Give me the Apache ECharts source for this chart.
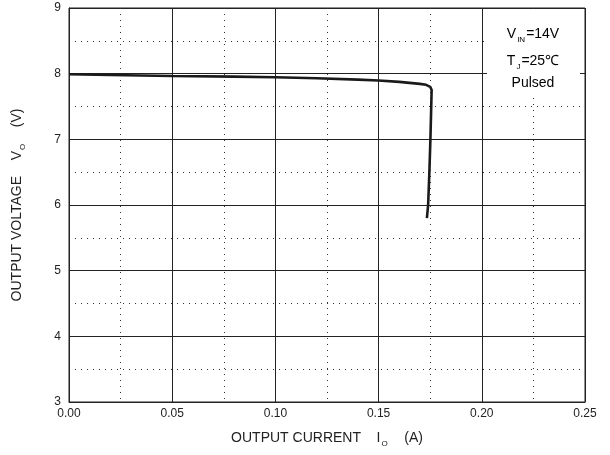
<!DOCTYPE html>
<html>
<head>
<meta charset="utf-8">
<script src="https://cdn.jsdelivr.net/npm/echarts@6/dist/echarts.min.js"></script>
<style>html,body{margin:0;padding:0;background:#fff}#c{width:610px;height:455px}</style>
</head>
<body>
<div id="c"></div>
<script>
var currentA = [0, 0.02, 0.05, 0.08, 0.10, 0.12, 0.14, 0.15, 0.16, 0.165, 0.17, 0.173, 0.175, 0.1757, 0.1755, 0.1751, 0.1746, 0.1740, 0.1734];
var voltageV = [7.99, 7.98, 7.965, 7.955, 7.945, 7.93, 7.91, 7.895, 7.875, 7.86, 7.845, 7.83, 7.80, 7.75, 7.5, 7.0, 6.5, 6.0, 5.8];
var xTicks = [0, 0.25, 0.05];
var yTicks = [3, 9, 1];
var noteLines = ['{a|V}{s|IN}{a|=14V}', '{a|T}{s|J}{a|=25℃}', '{a|Pulsed}'];

var chart = echarts.init(document.getElementById('c'));
var F = 'Liberation Sans, Arial, sans-serif';
var rich = {
  a: {fontFamily: F, fontSize: 14, color: '#222'},
  s: {fontFamily: F, fontSize: 8, color: '#222', padding: [11, 1, 0, 1]}
};
var data = currentA.map(function (x, i) { return [x, voltageV[i]]; });
chart.setOption({
  animation: false,
  grid: {left: 69, right: 25, top: 8, bottom: 53, show: true, borderColor: '#222', borderWidth: 1},
  xAxis: {
    type: 'value', min: xTicks[0], max: xTicks[1], interval: xTicks[2],
    axisLine: {show: true, lineStyle: {color: '#222'}},
    axisTick: {show: false},
    axisLabel: {fontFamily: F, fontSize: 12, color: '#222', margin: 6, formatter: function (v) { return v.toFixed(2); }},
    splitLine: {show: true, lineStyle: {color: '#222', width: 1}},
    minorTick: {show: false, splitNumber: 2},
    minorSplitLine: {show: true, lineStyle: {color: '#333', type: [1, 5], width: 1}},
    name: '{a|OUTPUT CURRENT    I}{s|O}{a|    (A)}',
    nameLocation: 'middle', nameGap: 27,
    nameTextStyle: {rich: rich}
  },
  yAxis: {
    type: 'value', min: yTicks[0], max: yTicks[1], interval: yTicks[2],
    axisLine: {show: true, lineStyle: {color: '#222'}},
    axisTick: {show: false},
    axisLabel: {fontFamily: F, fontSize: 12, color: '#222', margin: 8},
    splitLine: {show: true, lineStyle: {color: '#222', width: 1}},
    minorTick: {show: false, splitNumber: 2},
    minorSplitLine: {show: true, lineStyle: {color: '#333', type: [1, 5], width: 1}},
    name: '{a|OUTPUT VOLTAGE    V}{s|O}{a|    (V)}',
    nameLocation: 'middle', nameGap: 42,
    nameTextStyle: {rich: rich}
  },
  series: [{
    type: 'line', data: data, showSymbol: false, smooth: false,
    lineStyle: {color: '#1a1a1a', width: 2.6}, z: 5
  }],
  graphic: [
    {type: 'rect', z: 50, shape: {x: 487, y: 12, width: 93, height: 82}, style: {fill: '#fff'}},
    {type: 'text', z: 60, x: 533, y: 34, style: {text: noteLines[0], rich: rich, align: 'center', verticalAlign: 'middle'}},
    {type: 'text', z: 60, x: 533, y: 61, style: {text: noteLines[1], rich: rich, align: 'center', verticalAlign: 'middle'}},
    {type: 'text', z: 60, x: 533, y: 83, style: {text: noteLines[2], rich: rich, align: 'center', verticalAlign: 'middle'}}
  ]
});
</script>
</body>
</html>
